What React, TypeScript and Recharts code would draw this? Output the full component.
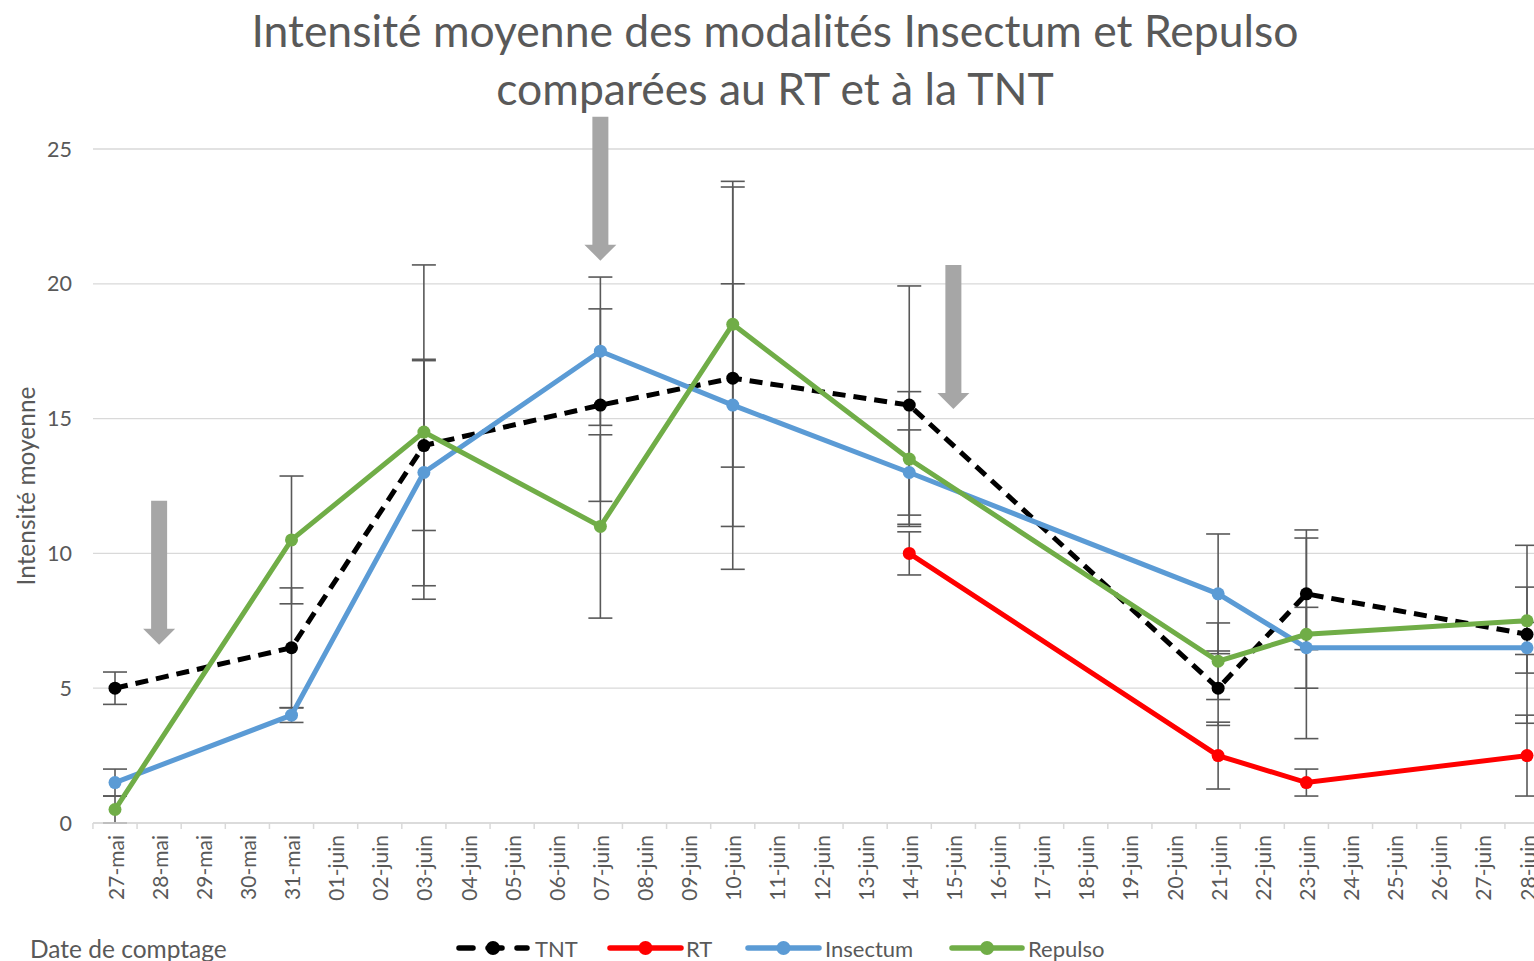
import React from 'react';
import { LineChart, Line, XAxis, YAxis, CartesianGrid, ErrorBar, ReferenceDot } from 'recharts';

const dates = [
  '27-mai', '28-mai', '29-mai', '30-mai', '31-mai',
  '01-juin', '02-juin', '03-juin', '04-juin', '05-juin', '06-juin', '07-juin', '08-juin', '09-juin', '10-juin',
  '11-juin', '12-juin', '13-juin', '14-juin', '15-juin', '16-juin', '17-juin', '18-juin', '19-juin', '20-juin',
  '21-juin', '22-juin', '23-juin', '24-juin', '25-juin', '26-juin', '27-juin', '28-juin',
];

const sampleDates = ['27-mai', '31-mai', '03-juin', '07-juin', '10-juin', '14-juin', '21-juin', '23-juin', '28-juin'];

const tnt = [5, 6.5, 14, 15.5, 16.5, 15.5, 5, 8.5, 7];
const tntErr = [0.6, 2.22, 3.15, 3.57, 7.09, 4.42, 1.38, 2.07, 3.3];
const rt = [null, null, null, null, null, 10, 2.5, 1.5, 2.5];
const rtErr = [null, null, null, null, null, 0.8, 1.24, 0.5, 1.5];
const insectum = [1.5, 4, 13, 17.5, 15.5, 13, 8.5, 6.5, 6.5];
const insectumErr = [0.5, 0.27, 4.2, 2.75, 4.5, 1.58, 2.22, 1.5, 0.94];
const repulso = [0.5, 10.5, 14.5, 11, 18.5, 13.5, 6, 7, 7.5];
const repulsoErr = [0.5, 2.37, 6.2, 3.4, 5.3, 2.5, 1.42, 3.87, 1.25];

const yTicks = [0, 5, 10, 15, 20, 25];

const arrowDates = ['28-mai', '07-juin', '15-juin'];
const arrowTops = [11.95, 26.2, 20.7];

const seriesNames = ['TNT', 'RT', 'Insectum', 'Repulso'];
const seriesColors = ['#000000', '#ff0000', '#5b9bd5', '#70ad47'];

const data = dates.map((d) => {
  const i = sampleDates.indexOf(d);
  const pick = (arr: (number | null)[]) => (i >= 0 ? arr[i] : null);
  return {
    date: d,
    TNT: pick(tnt),
    TNTErr: pick(tntErr),
    RT: pick(rt),
    RTErr: pick(rtErr),
    Insectum: pick(insectum),
    InsectumErr: pick(insectumErr),
    Repulso: pick(repulso),
    RepulsoErr: pick(repulsoErr),
  };
});

const FONT = 'Lato, "Open Sans", sans-serif';
const TEXT = '#595959';
const HALF_STEP = 22.06;

const XTick = (props: any) => {
  const { x, y, payload, index } = props;
  const isLast = index === dates.length - 1;
  return (
    <g>
      <line x1={x - HALF_STEP} y1={y} x2={x - HALF_STEP} y2={y + 6} stroke="#d9d9d9" strokeWidth={1.5} />
      {isLast && <line x1={x + HALF_STEP} y1={y} x2={x + HALF_STEP} y2={y + 6} stroke="#d9d9d9" strokeWidth={1.5} />}
      <text
        x={x}
        y={y + 12}
        transform={`rotate(-90, ${x}, ${y + 12})`}
        textAnchor="end"
        dominantBaseline="central"
        fill={TEXT}
        fontSize={21}
        fontFamily={FONT}
      >
        {payload.value}
      </text>
    </g>
  );
};

const Arrow = (props: any) => {
  const { cx, cy } = props;
  if (cx == null || cy == null) return null;
  const len = 144;
  const shaft = 8;
  const head = 16;
  const headH = 16;
  const pts = [
    [cx - shaft, cy],
    [cx + shaft, cy],
    [cx + shaft, cy + len - headH],
    [cx + head, cy + len - headH],
    [cx, cy + len],
    [cx - head, cy + len - headH],
    [cx - shaft, cy + len - headH],
  ]
    .map((p) => p.join(','))
    .join(' ');
  return <polygon points={pts} fill="#a6a6a6" />;
};

const YLabel = (props: any) => {
  const vb = props.viewBox || {};
  const cx = 25;
  const cy = (vb.y ?? 149) + (vb.height ?? 674) / 2;
  return (
    <text
      x={cx}
      y={cy}
      transform={`rotate(-90, ${cx}, ${cy})`}
      textAnchor="middle"
      dominantBaseline="central"
      fill={TEXT}
      fontSize={24.5}
      fontFamily={FONT}
    >
      Intensité moyenne
    </text>
  );
};

const legendPos = [
  { lineFrom: 459, lineTo: 527, text: 535 },
  { lineFrom: 610, lineTo: 681, text: 686 },
  { lineFrom: 748, lineTo: 819, text: 825 },
  { lineFrom: 952, lineTo: 1022, text: 1028 },
];

const LegendSvg = () => (
  <svg width={1534} height={40} style={{ position: 'absolute', left: 0, top: 928 }}>
    <text x={30} y={20} dominantBaseline="central" fill={TEXT} fontSize={24.5} fontFamily={FONT}>
      Date de comptage
    </text>
    {seriesNames.map((name, i) => {
      const p = legendPos[i];
      const mid = (p.lineFrom + p.lineTo) / 2;
      return (
        <g key={name}>
          <line
            x1={p.lineFrom}
            y1={20}
            x2={p.lineTo}
            y2={20}
            stroke={seriesColors[i]}
            strokeWidth={5.5}
            strokeLinecap="round"
            strokeDasharray={i === 0 ? '14 15' : undefined}
          />
          <circle cx={mid} cy={20} r={7} fill={seriesColors[i]} />
          <text x={p.text} y={20} dominantBaseline="central" fill={TEXT} fontSize={22} fontFamily={FONT}>
            {name}
          </text>
        </g>
      );
    })}
  </svg>
);

export default function App() {
  return (
    <div
      style={{
        position: 'fixed',
        left: 0,
        top: 0,
        width: 1534,
        height: 961,
        overflow: 'hidden',
        background: '#ffffff',
        fontFamily: FONT,
      }}
    >
      <div
        style={{
          position: 'absolute',
          left: 0,
          top: 1,
          width: 1550,
          textAlign: 'center',
          color: TEXT,
          fontSize: 44.5,
          lineHeight: '58px',
          fontFamily: FONT,
        }}
      >
        <div>Intensité moyenne des modalités Insectum et Repulso</div>
        <div>comparées au RT et à la TNT</div>
      </div>
      <div style={{ position: 'absolute', left: 0, top: 0 }}>
        <LineChart width={1560} height={961} data={data} margin={{ top: 149, right: 11, bottom: 48, left: 0 }}>
          <CartesianGrid vertical={false} stroke="#d9d9d9" strokeWidth={1.3} />
          <XAxis
            dataKey="date"
            interval={0}
            height={90}
            padding={{ left: 22, right: 22 }}
            tickLine={false}
            tickSize={0}
            tickMargin={0}
            axisLine={{ stroke: '#d9d9d9', strokeWidth: 1.5 }}
            tick={<XTick />}
          />
          <YAxis
            width={93}
            domain={[0, 25]}
            ticks={yTicks}
            axisLine={false}
            tickLine={false}
            tickSize={0}
            tickMargin={21}
            tick={{ fill: TEXT, fontSize: 21.5, fontFamily: FONT }}
            label={<YLabel />}
          />
          {seriesNames.map((name, i) => (
            <Line
              key={name}
              type="linear"
              dataKey={name}
              stroke={seriesColors[i]}
              strokeWidth={5}
              strokeDasharray={i === 0 ? '13 8' : undefined}
              connectNulls
              isAnimationActive={false}
              dot={{ r: 6.5, fill: seriesColors[i], stroke: 'none', strokeDasharray: '' }}
              activeDot={false}
            >
              <ErrorBar dataKey={`${name}Err`} direction="y" width={12} stroke="#595959" strokeWidth={1.6} />
            </Line>
          ))}
          {arrowDates.map((d, i) => (
            <ReferenceDot key={d} x={d} y={arrowTops[i]} ifOverflow="visible" shape={<Arrow />} />
          ))}
        </LineChart>
      </div>
      <LegendSvg />
    </div>
  );
}
